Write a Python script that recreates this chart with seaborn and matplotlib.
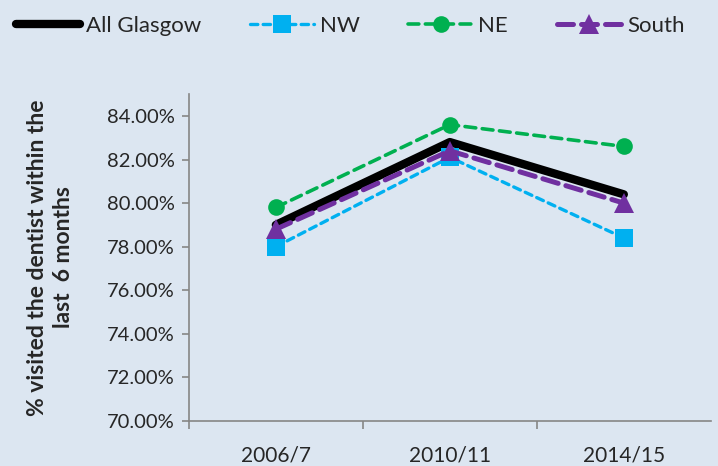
import matplotlib
matplotlib.use("Agg")
import matplotlib.pyplot as plt
import matplotlib.ticker as mticker
import pandas as pd
import seaborn as sns

years = ["2006/7", "2010/11", "2014/15"]
all_glasgow = [79.0, 82.8, 80.4]
nw = [78.0, 82.1, 78.4]
ne = [79.8, 83.6, 82.6]
south = [78.8, 82.4, 80.0]

series = {"All Glasgow": all_glasgow, "NW": nw, "NE": ne, "South": south}
styles = {
    "All Glasgow": dict(color="black", lw=6, marker=None, ms=0, dash=None),
    "NW": dict(color="#00b0f0", lw=2.4, marker="s", ms=13, dash=(2.2, 1.6)),
    "NE": dict(color="#00b050", lw=2.6, marker="o", ms=12, dash=(3.0, 1.8)),
    "South": dict(color="#7030a0", lw=3.6, marker="^", ms=14, dash=(3.2, 1.6)),
}

bg = "#dce6f1"
sns.set_theme(style="white")
plt.rcParams["font.family"] = ["Lato", "DejaVu Sans"]

fig = plt.figure(figsize=(7.18, 4.66), dpi=100, facecolor=bg)
ax = fig.add_axes([0.263, 0.0966, 0.727, 0.7014])
ax.set_facecolor(bg)

for name, vals in series.items():
    st = styles[name]
    df = pd.DataFrame({"year": years, "value": vals})
    kw = dict(color=st["color"], linewidth=st["lw"], ax=ax, label=name, sort=False)
    if st["marker"]:
        kw.update(marker=st["marker"], markersize=st["ms"], markeredgewidth=0)
    line_ax = sns.lineplot(data=df, x="year", y="value", **kw)
    ln = line_ax.lines[-1]
    if st["dash"]:
        ln.set_dashes(st["dash"])
    ln.set_solid_capstyle("round")
    ln.set_dash_capstyle("round")

ax.set_xlim(-0.5, 2.5)
ax.set_ylim(70, 85)
ax.set_yticks([70, 72, 74, 76, 78, 80, 82, 84])
ax.yaxis.set_major_formatter(mticker.FuncFormatter(lambda v, p: f"{v:.2f}%"))
ax.set_xticks([0, 1, 2])
ax.set_xticklabels(years)
ax.set_xticks([-0.5, 0.5, 1.5], minor=True)

for s in ["top", "right"]:
    ax.spines[s].set_visible(False)
for s in ["left", "bottom"]:
    ax.spines[s].set_color("#868686")
    ax.spines[s].set_linewidth(1.2)

ax.tick_params(axis="y", which="major", direction="out", length=5, width=1.2,
               color="#868686", labelsize=14.5, pad=5, left=True)
ax.tick_params(axis="x", which="major", length=0, labelsize=15, pad=18)
ax.tick_params(axis="x", which="minor", direction="out", length=6, width=1.2,
               color="#868686", bottom=True)

ax.set_xlabel("")
ax.set_ylabel("% visited the dentist within the\nlast  6 months", fontsize=16.5,
              fontweight="bold", labelpad=24, linespacing=1.3)

leg_ax = ax.get_legend()
if leg_ax:
    leg_ax.remove()
handles, labels = ax.get_legend_handles_labels()
fig.legend(handles, labels, loc="upper left", bbox_to_anchor=(0.0, 1.0), ncol=4,
           frameon=False, fontsize=16, handlelength=2.9, handletextpad=0.25,
           columnspacing=2.2, borderaxespad=0.3)

fig.savefig("out.png", dpi=100, facecolor=bg)
